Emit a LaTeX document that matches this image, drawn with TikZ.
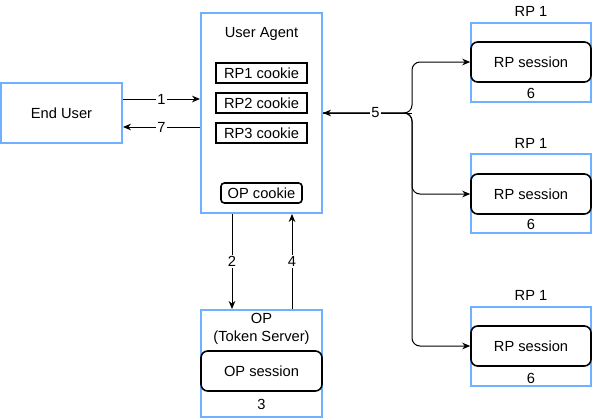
\documentclass[tikz,border=0pt]{standalone}
\usepackage{fontspec}
\setmainfont{Liberation Sans}
\usetikzlibrary{arrows.meta,calc}
\definecolor{boxblue}{HTML}{6FB1FF}
\tikzset{
  x=0.75pt, y=-0.75pt,
  every node/.style={font=\fontsize{11}{13.5}\selectfont, inner sep=0pt},
  outerbox/.style={draw=boxblue, line width=1.5pt, fill=white},
  cookiebox/.style={draw=black, line width=1.2pt, minimum width=68.25pt, minimum height=15pt},
  opcookie/.style={draw=black, line width=1.2pt, rounded corners=2.5pt, minimum width=60.75pt, minimum height=15pt},
  sessbox/.style={draw=black, line width=1.2pt, rounded corners=5pt, minimum width=90pt, minimum height=30pt},
  conn/.style={line width=0.75pt, -{Stealth[length=6pt,width=5pt]}},
  lbl/.style={fill=white, inner sep=1pt},
}
\begin{document}
\begin{tikzpicture}
\useasboundingbox (0,0) rectangle (592,419);
% End User
\node[outerbox, minimum width=90.75pt, minimum height=45pt] (eu) at (61.5,113) {End User};
% User Agent
\node[outerbox, minimum width=90.75pt, minimum height=150pt] (ua) at (261.5,113) {};
\node (uat) at (261.5,34) {User Agent};
\node[cookiebox] (c1) at (261.5,73) {RP1 cookie};
\node[cookiebox] (c2) at (261.5,103) {RP2 cookie};
\node[cookiebox] (c3) at (261.5,133) {RP3 cookie};
\node[opcookie] (oc) at (261.5,193) {OP cookie};
% OP
\node[outerbox, minimum width=90.75pt, minimum height=80.25pt] (op) at (261.5,363.5) {};
\node[align=center] (opt) at (261.5,329) {OP\\(Token Server)};
\node[sessbox, minimum width=90.75pt] (ops) at (261.5,371) {OP session};
\node (op3) at (261.5,404) {3};
% RPs
\foreach \i/\cy/\sy/\ly/\ny in {1/62.5/62/11/93, 2/193.5/194/143/224, 3/346.5/346/295/378}{
  \node[outerbox, minimum width=90pt, minimum height=59.25pt] (rp\i) at (531,\cy) {};
  \node (rpl\i) at (531,\ly) {RP 1};
  \node[sessbox] (rs\i) at (531,\sy) {RP session};
  \node (rpn\i) at (531,\ny) {6};
}
% connectors
\draw[conn] (eu.east |- 0,99) -- (ua.west |- 0,99) node[lbl, midway] {1};
\draw[conn] (ua.west |- 0,127) -- (eu.east |- 0,127) node[lbl, midway] {7};
\draw[conn] (ua.south -| 232,0) -- (op.north -| 232,0) node[lbl, midway] {2};
\draw[conn] (op.north -| 292,0) -- (ua.south -| 292,0) node[lbl, midway] {4};
\coordinate (j) at (412,113);
\foreach \i in {1,2,3}{
  \draw[conn, rounded corners=6pt] (ua.east |- j) -- (j) -- (j |- rs\i.west) -- (rs\i.west);
}
\draw[conn] (j) -- (ua.east |- j) node[lbl, pos=0.41] {5};
\end{tikzpicture}
\end{document}
